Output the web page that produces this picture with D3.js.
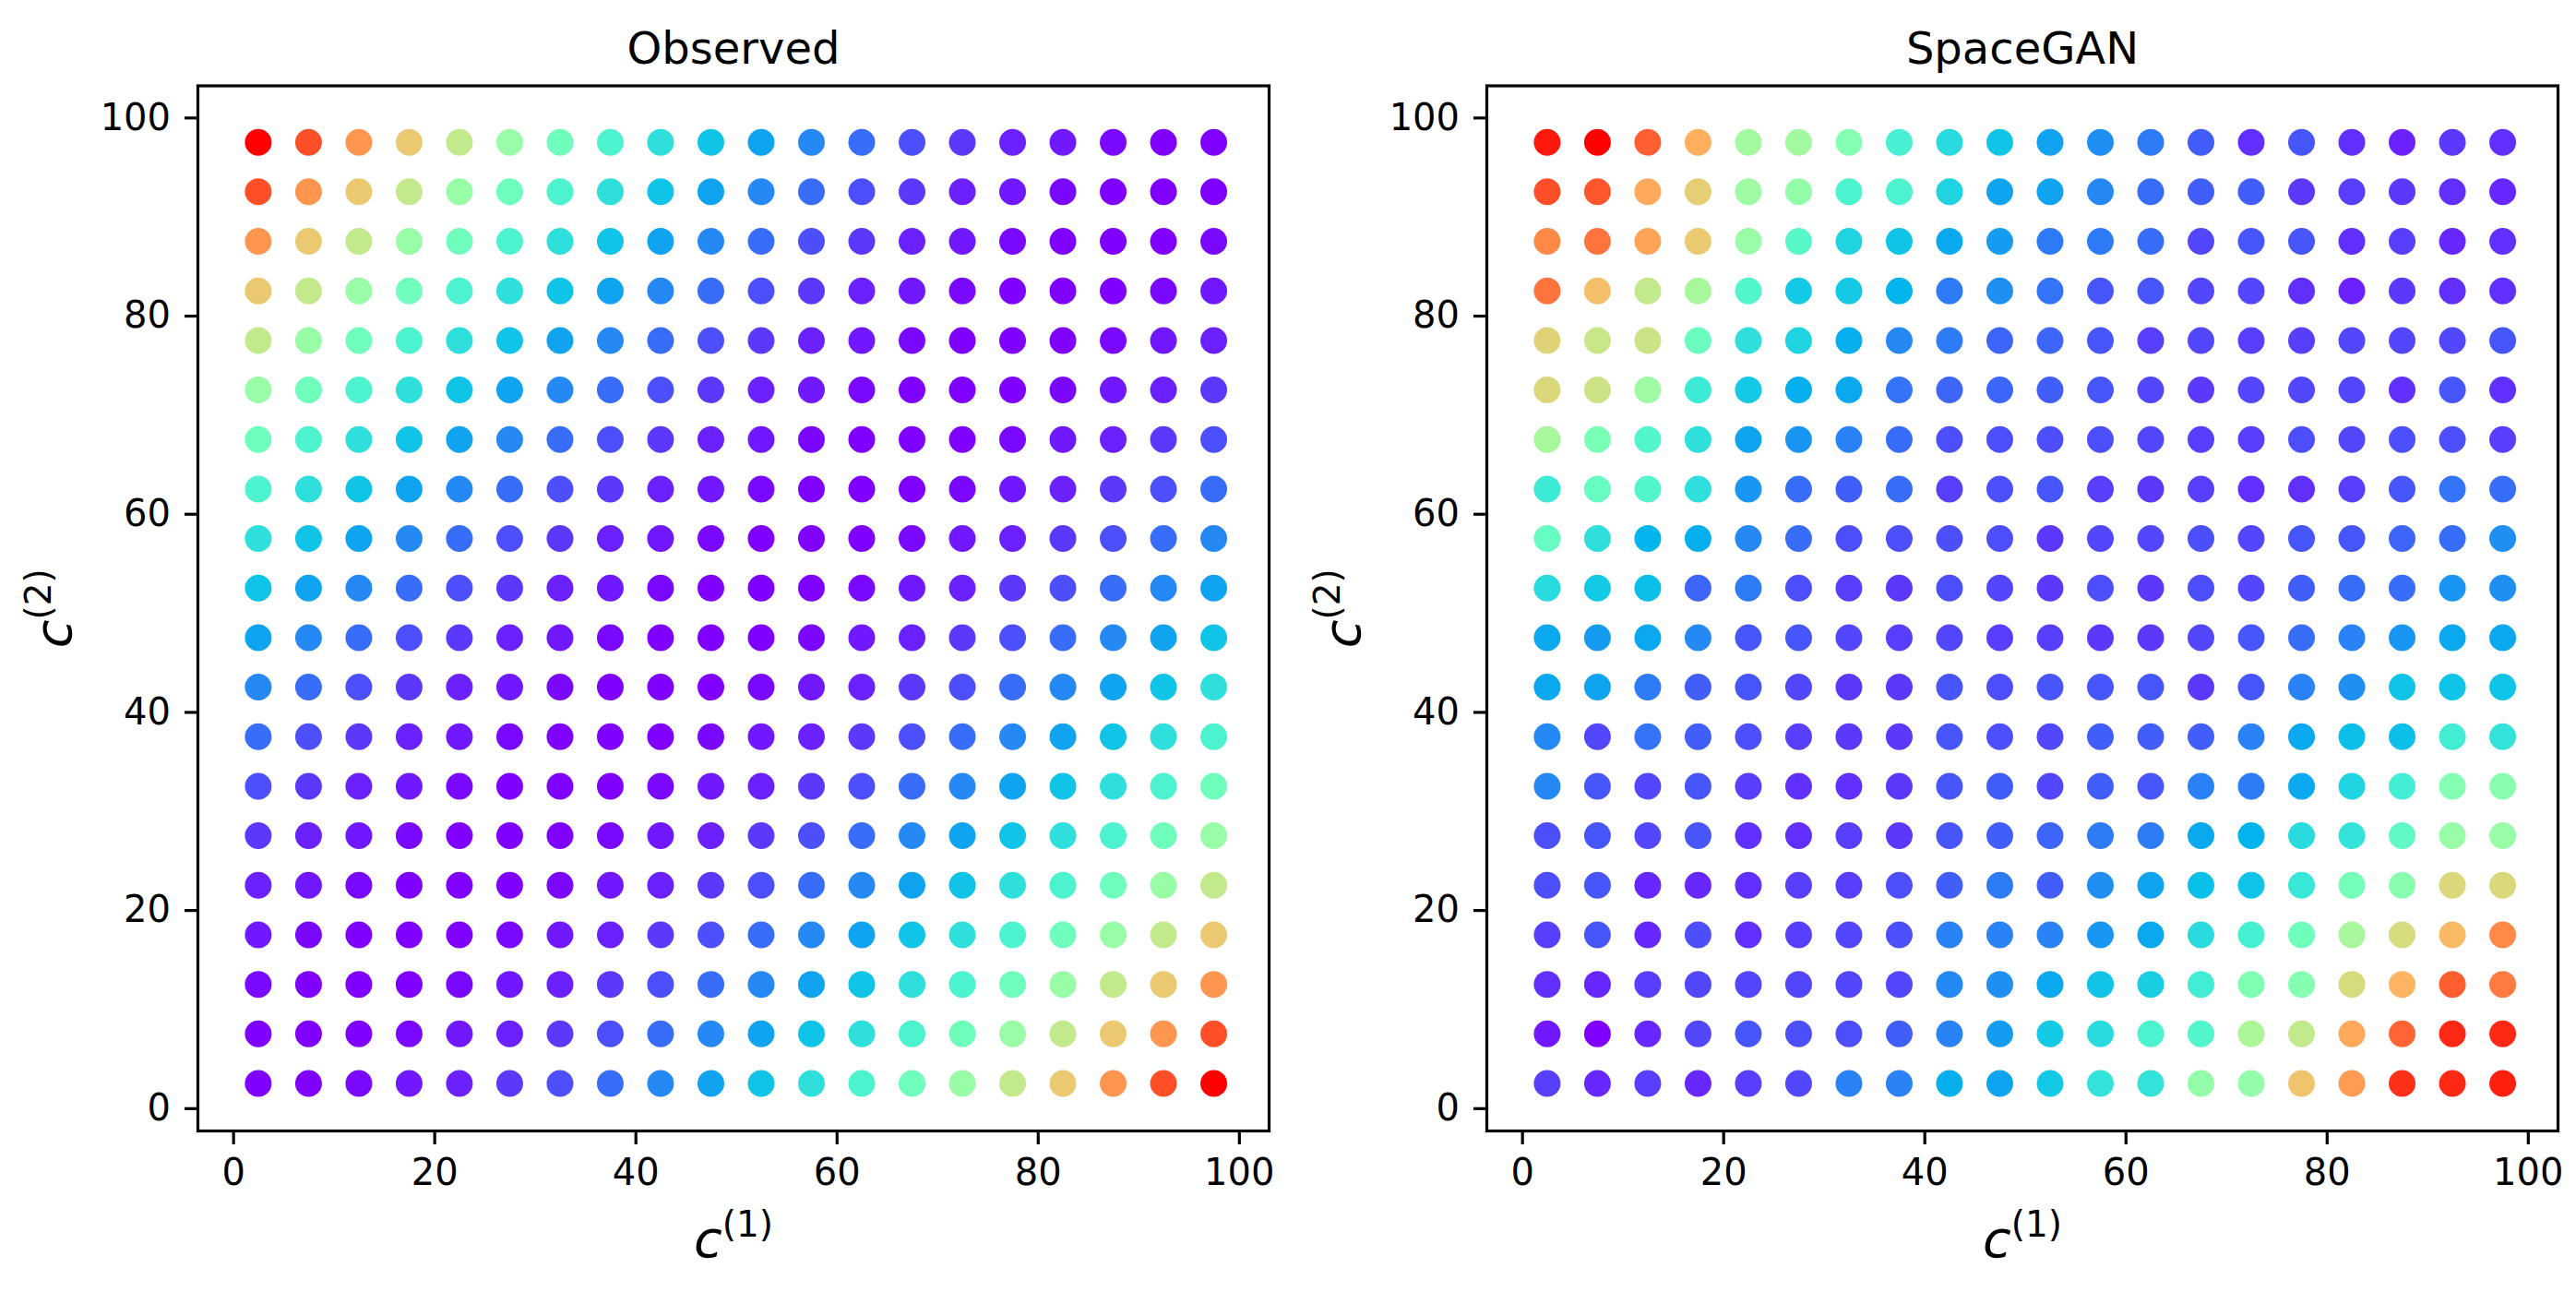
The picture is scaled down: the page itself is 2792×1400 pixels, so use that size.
<!DOCTYPE html>
<html lang="en">
<head>
<meta charset="UTF-8">
<title>Observed vs SpaceGAN</title>
<script src="https://d3js.org/d3.v7.min.js"></script>
<style>
  body { margin: 0; background: #fff; }
  svg { display: block; }
  text { font-family: "DejaVu Sans", sans-serif; fill: #000; }
</style>
</head>
<body>
<div id="chart"></div>
<script>
// grid coordinates of the points
const coordsX = [2.5, 7.5, 12.5, 17.5, 22.5, 27.5, 32.5, 37.5, 42.5, 47.5,
                 52.5, 57.5, 62.5, 67.5, 72.5, 77.5, 82.5, 87.5, 92.5, 97.5];
// rows from top (97.5) to bottom (2.5)
const coordsY = [97.5, 92.5, 87.5, 82.5, 77.5, 72.5, 67.5, 62.5, 57.5, 52.5,
                 47.5, 42.5, 37.5, 32.5, 27.5, 22.5, 17.5, 12.5, 7.5, 2.5];
const xTicks = [0, 20, 40, 60, 80, 100];
const yTicks = [0, 20, 40, 60, 80, 100];

// colour values (0-100 of the rainbow map), one array per row, top row first
const observed = [
  [100, 90, 80, 71, 63, 55, 47, 40, 34, 28, 22, 18, 14, 10, 7, 4, 3, 1, 0, 0],
  [90, 80, 71, 63, 55, 47, 40, 34, 28, 22, 18, 14, 10, 7, 4, 3, 1, 0, 0, 0],
  [80, 71, 63, 55, 47, 40, 34, 28, 22, 18, 14, 10, 7, 4, 3, 1, 0, 0, 0, 1],
  [71, 63, 55, 47, 40, 34, 28, 22, 18, 14, 10, 7, 4, 3, 1, 0, 0, 0, 1, 3],
  [63, 55, 47, 40, 34, 28, 22, 18, 14, 10, 7, 4, 3, 1, 0, 0, 0, 1, 3, 4],
  [55, 47, 40, 34, 28, 22, 18, 14, 10, 7, 4, 3, 1, 0, 0, 0, 1, 3, 4, 7],
  [47, 40, 34, 28, 22, 18, 14, 10, 7, 4, 3, 1, 0, 0, 0, 1, 3, 4, 7, 10],
  [40, 34, 28, 22, 18, 14, 10, 7, 4, 3, 1, 0, 0, 0, 1, 3, 4, 7, 10, 14],
  [34, 28, 22, 18, 14, 10, 7, 4, 3, 1, 0, 0, 0, 1, 3, 4, 7, 10, 14, 18],
  [28, 22, 18, 14, 10, 7, 4, 3, 1, 0, 0, 0, 1, 3, 4, 7, 10, 14, 18, 22],
  [22, 18, 14, 10, 7, 4, 3, 1, 0, 0, 0, 1, 3, 4, 7, 10, 14, 18, 22, 28],
  [18, 14, 10, 7, 4, 3, 1, 0, 0, 0, 1, 3, 4, 7, 10, 14, 18, 22, 28, 34],
  [14, 10, 7, 4, 3, 1, 0, 0, 0, 1, 3, 4, 7, 10, 14, 18, 22, 28, 34, 40],
  [10, 7, 4, 3, 1, 0, 0, 0, 1, 3, 4, 7, 10, 14, 18, 22, 28, 34, 40, 47],
  [7, 4, 3, 1, 0, 0, 0, 1, 3, 4, 7, 10, 14, 18, 22, 28, 34, 40, 47, 55],
  [4, 3, 1, 0, 0, 0, 1, 3, 4, 7, 10, 14, 18, 22, 28, 34, 40, 47, 55, 63],
  [3, 1, 0, 0, 0, 1, 3, 4, 7, 10, 14, 18, 22, 28, 34, 40, 47, 55, 63, 71],
  [1, 0, 0, 0, 1, 3, 4, 7, 10, 14, 18, 22, 28, 34, 40, 47, 55, 63, 71, 80],
  [0, 0, 0, 1, 3, 4, 7, 10, 14, 18, 22, 28, 34, 40, 47, 55, 63, 71, 80, 90],
  [0, 0, 1, 3, 4, 7, 10, 14, 18, 22, 28, 34, 40, 47, 55, 63, 71, 80, 90, 100]
];

const spacegan = [
  [97, 100, 88, 76, 57, 57, 51, 39, 33, 28, 22, 19, 16, 12, 6, 11, 6, 4, 7, 6],
  [90, 89, 77, 70, 56, 54, 40, 40, 31, 22, 22, 18, 14, 12, 12, 7, 8, 7, 6, 5],
  [82, 85, 78, 71, 55, 42, 31, 28, 23, 21, 16, 16, 14, 9, 11, 11, 6, 8, 5, 6],
  [85, 73, 63, 58, 41, 29, 29, 25, 16, 19, 15, 11, 11, 9, 9, 6, 4, 7, 6, 6],
  [69, 64, 65, 46, 34, 31, 24, 18, 16, 13, 13, 11, 8, 9, 8, 8, 9, 9, 9, 11],
  [68, 65, 56, 37, 29, 24, 23, 15, 13, 13, 12, 11, 9, 7, 9, 9, 9, 6, 11, 6],
  [58, 49, 41, 34, 22, 20, 17, 14, 10, 10, 10, 10, 9, 8, 8, 10, 9, 10, 10, 8],
  [37, 45, 41, 34, 20, 14, 12, 14, 8, 10, 11, 8, 7, 8, 6, 6, 8, 11, 15, 14],
  [45, 34, 25, 24, 18, 14, 10, 10, 10, 10, 7, 9, 9, 10, 9, 11, 11, 13, 14, 19],
  [33, 29, 27, 13, 16, 10, 8, 7, 10, 9, 7, 10, 7, 10, 9, 12, 14, 14, 20, 19],
  [23, 21, 23, 18, 11, 11, 9, 8, 9, 8, 8, 7, 7, 9, 11, 14, 17, 20, 23, 23],
  [23, 22, 16, 12, 11, 9, 7, 7, 11, 10, 11, 11, 11, 7, 11, 17, 19, 28, 28, 28],
  [18, 9, 15, 12, 10, 8, 7, 7, 11, 10, 9, 12, 12, 12, 17, 23, 27, 27, 38, 35],
  [18, 11, 9, 11, 8, 6, 6, 7, 11, 12, 9, 12, 11, 17, 16, 23, 31, 38, 51, 52],
  [10, 11, 9, 11, 6, 6, 8, 7, 11, 12, 13, 16, 16, 23, 25, 33, 35, 44, 55, 55],
  [10, 11, 5, 5, 6, 8, 8, 10, 12, 16, 12, 19, 22, 27, 28, 36, 48, 52, 68, 68],
  [8, 11, 5, 10, 6, 8, 9, 10, 17, 17, 17, 20, 23, 33, 39, 47, 58, 67, 74, 82],
  [6, 5, 8, 9, 9, 9, 9, 9, 18, 19, 23, 28, 30, 38, 50, 51, 67, 75, 88, 84],
  [3, 0, 5, 9, 11, 10, 10, 12, 17, 21, 29, 33, 40, 41, 59, 63, 77, 87, 95, 95],
  [8, 5, 8, 5, 8, 9, 17, 17, 24, 22, 29, 35, 35, 54, 54, 72, 79, 94, 95, 96]
];

const width = 2792;
const height = 1400;
const plotTop = 93, plotBottom = 1225.5, panelW = 1161;

// matplotlib "rainbow" colormap
function rainbow(t) {
  const r = Math.min(1, Math.abs(2 * t - 0.5));
  const g = Math.sin(Math.PI * t);
  const b = Math.cos(Math.PI * t / 2);
  return d3.rgb(r * 255, g * 255, b * 255).formatHex();
}
const norm = d3.scaleLinear().domain([0, 100]).range([0, 1]).clamp(true);

const svg = d3.select("#chart").append("svg")
  .attr("width", width)
  .attr("height", height);

function drawPanel(left, title, rows) {
  const x = d3.scaleLinear().domain([-3.5, 103]).range([left, left + panelW]);
  const y = d3.scaleLinear().domain([-2.3, 103.2]).range([plotBottom, plotTop]);
  const g = svg.append("g");

  const pts = [];
  rows.forEach((row, i) => row.forEach((v, j) => pts.push({ x: coordsX[j], y: coordsY[i], v: v })));

  g.selectAll("circle")
    .data(pts)
    .join("circle")
    .attr("cx", d => x(d.x))
    .attr("cy", d => y(d.y))
    .attr("r", 14.5)
    .attr("fill", d => rainbow(norm(d.v)));

  // frame
  g.append("rect")
    .attr("x", left).attr("y", plotTop)
    .attr("width", panelW).attr("height", plotBottom - plotTop)
    .attr("fill", "none").attr("stroke", "#000").attr("stroke-width", 3.2);

  const xAxis = g.append("g")
    .attr("transform", `translate(0,${plotBottom})`)
    .call(d3.axisBottom(x).tickValues(xTicks).tickSize(14.5).tickPadding(16).tickSizeOuter(0));
  const yAxis = g.append("g")
    .attr("transform", `translate(${left},0)`)
    .call(d3.axisLeft(y).tickValues(yTicks).tickSize(14.5).tickPadding(15).tickSizeOuter(0));
  [xAxis, yAxis].forEach(a => {
    a.select(".domain").remove();
    a.selectAll(".tick line").attr("stroke", "#000").attr("stroke-width", 3.2);
    a.selectAll(".tick text").attr("font-size", 40).attr("font-family", "DejaVu Sans").attr("fill", "#000");
  });

  g.append("text")
    .attr("x", left + panelW / 2)
    .attr("y", plotTop - 24)
    .attr("text-anchor", "middle")
    .attr("font-size", 48)
    .text(title);

  // x label c^(1)
  const xl = g.append("text")
    .attr("x", left + panelW / 2)
    .attr("y", 1362)
    .attr("text-anchor", "middle");
  xl.append("tspan").attr("font-size", 56).attr("font-style", "italic").text("c");
  xl.append("tspan").attr("font-size", 39).attr("dy", -22).text("(1)");

  // y label c^(2)
  const yl = g.append("text")
    .attr("transform", `translate(${left - 138},${(plotTop + plotBottom) / 2}) rotate(-90)`)
    .attr("text-anchor", "middle");
  yl.append("tspan").attr("font-size", 56).attr("font-style", "italic").text("c");
  yl.append("tspan").attr("font-size", 39).attr("dy", -22).text("(2)");
}

drawPanel(214.5, "Observed", observed);
drawPanel(1611.5, "SpaceGAN", spacegan);
</script>
</body>
</html>
